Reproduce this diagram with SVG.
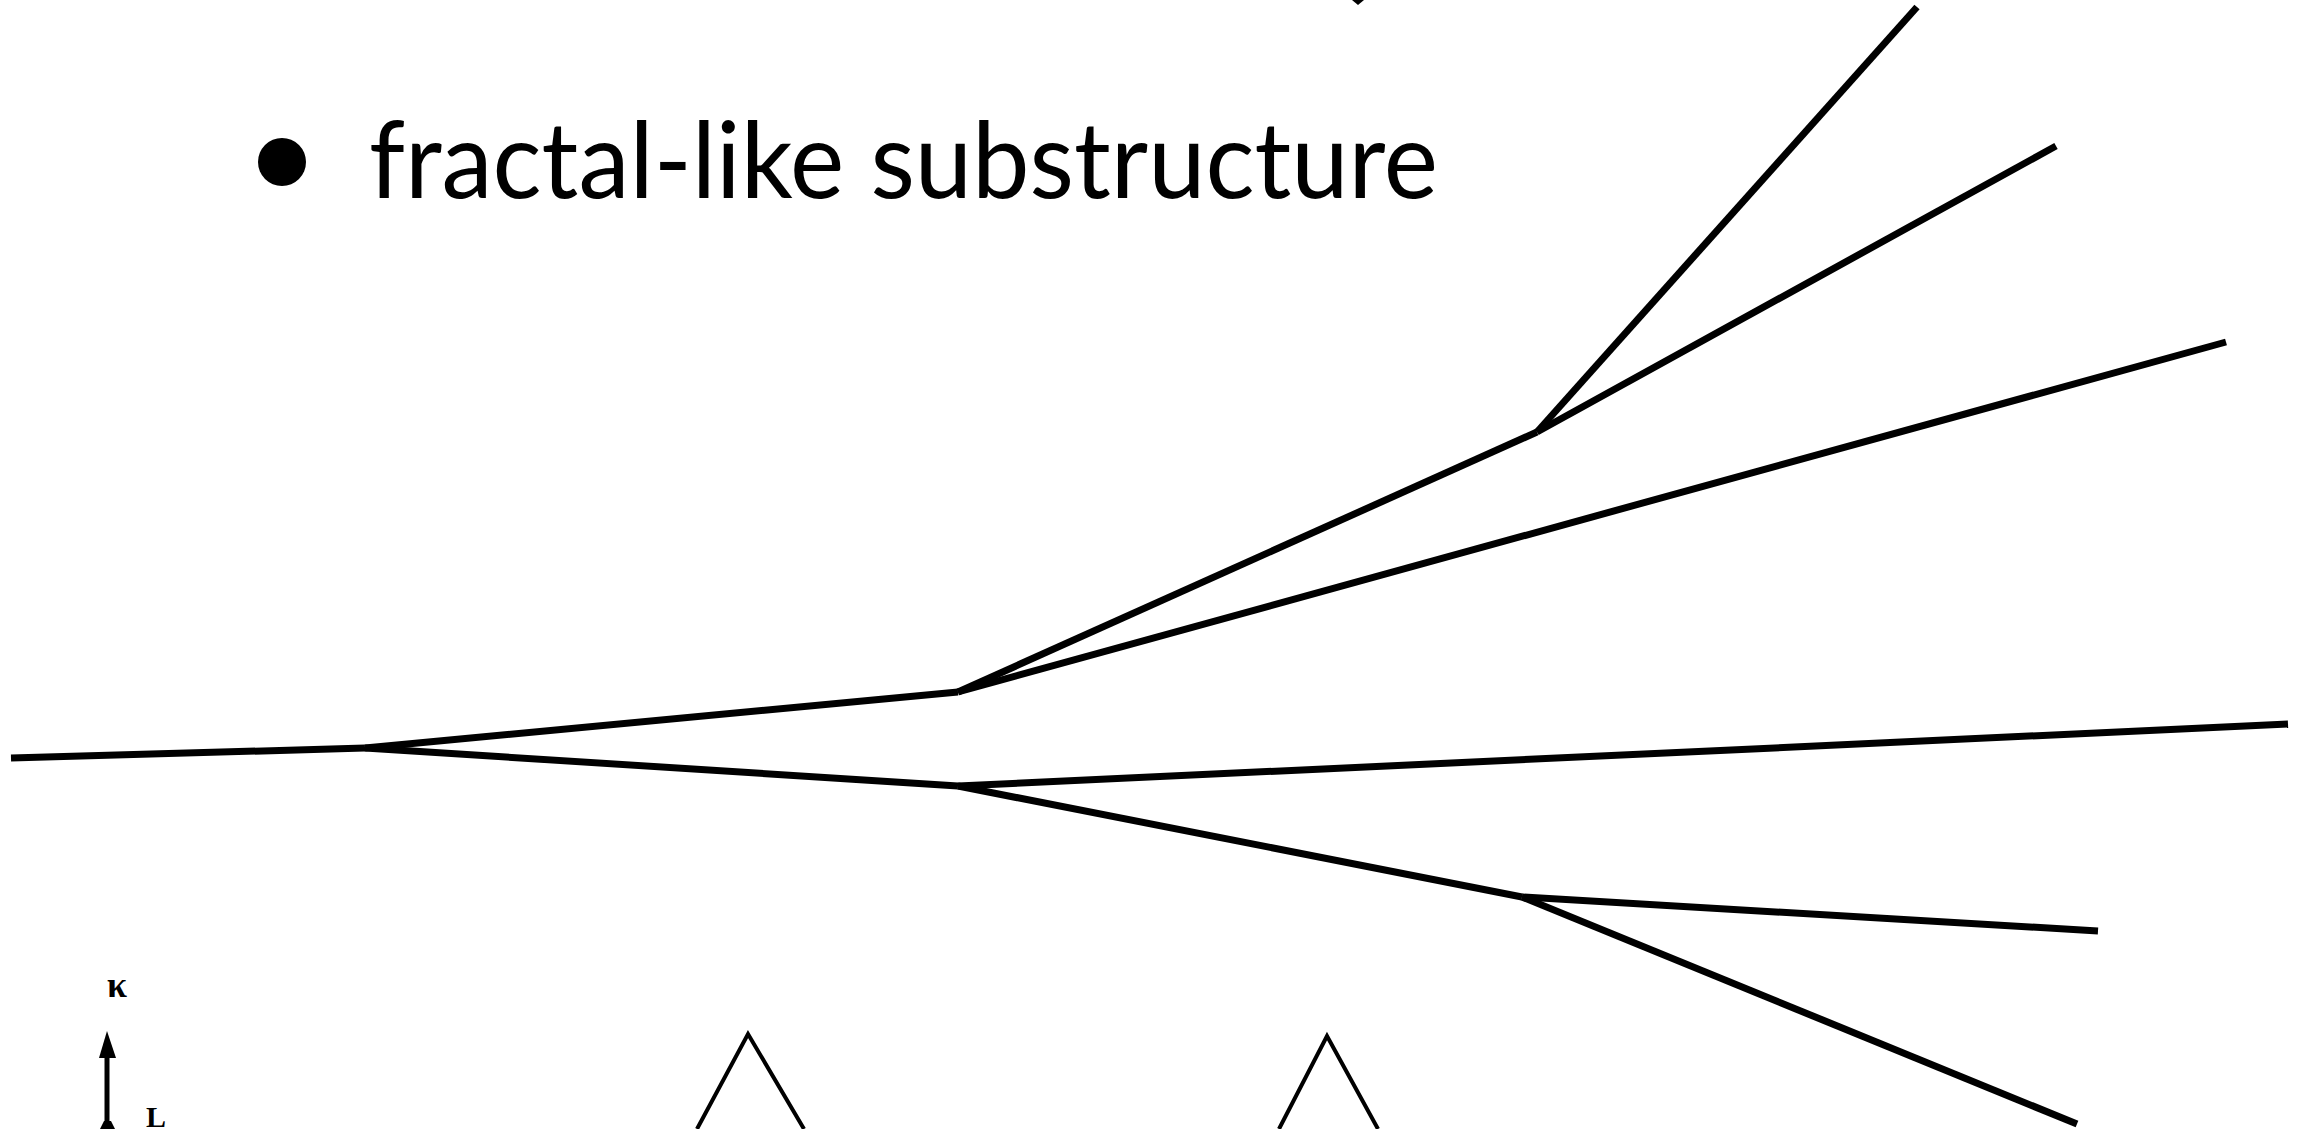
<svg xmlns="http://www.w3.org/2000/svg" width="2307" height="1129" viewBox="0 0 2307 1129">
  <style>
    .branch { stroke: #000; stroke-width: 7; fill: none; stroke-linecap: butt; }
    .thin { stroke: #000; stroke-width: 4; fill: none; }
    .title { font-family: Lato, "Open Sans", "Liberation Sans", sans-serif; font-size: 106px; fill: #000; }
    .sym { font-family: "Liberation Serif", "DejaVu Serif", serif; font-weight: bold; fill: #000; }
  </style>
  <rect width="2307" height="1129" fill="#fff"/>

  <g id="bullet-text">
    <circle cx="282" cy="162" r="24" fill="#000"/>
    <text class="title" x="369" y="198" textLength="1069" lengthAdjust="spacingAndGlyphs">fractal-like substructure</text>
  </g>

  <g id="top-fragment">
    <path d="M1352,0 L1358,5 L1364,0 Z" fill="#000"/>
  </g>

  <g id="connectors">
    <line class="branch" x1="11" y1="758" x2="365" y2="748"/>
    <line class="branch" x1="365" y1="748" x2="958" y2="692"/>
    <line class="branch" x1="365" y1="748" x2="958" y2="786"/>
    <line class="branch" x1="958" y1="692" x2="1537" y2="432"/>
    <line class="branch" x1="958" y1="692" x2="2226" y2="342"/>
    <line class="branch" x1="1537" y1="432" x2="1917" y2="7"/>
    <line class="branch" x1="1537" y1="432" x2="2056" y2="146"/>
    <line class="branch" x1="958" y1="786" x2="2288" y2="724"/>
    <line class="branch" x1="958" y1="786" x2="1522" y2="897"/>
    <line class="branch" x1="1522" y1="897" x2="2098" y2="931"/>
    <line class="branch" x1="1522" y1="897" x2="2077" y2="1124"/>
  </g>

  <g id="bottom-figure">
    <text class="sym" x="107" y="997" font-size="36">κ</text>
    <line x1="107" y1="1052" x2="107" y2="1129" stroke="#000" stroke-width="5"/>
    <polygon points="107,1031 99,1058 116,1058" fill="#000"/>
    <polygon points="100,1129 104,1121 111,1121 115,1129" fill="#000"/>
    <text class="sym" x="146" y="1127" font-size="30">L</text>
    <polyline class="thin" points="697,1129 748,1034 804,1129"/>
    <polyline class="thin" points="1279,1129 1327,1036 1378,1129"/>
  </g>
</svg>
